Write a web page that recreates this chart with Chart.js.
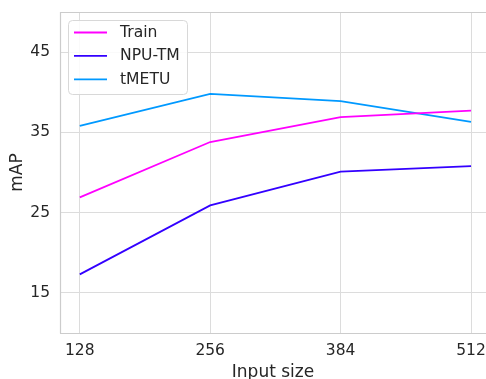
<!DOCTYPE html>
<html>
<head>
<meta charset="utf-8">
<script src="https://cdn.jsdelivr.net/npm/chart.js@4"></script>
<style>
html,body{margin:0;padding:0;background:#fff;}
#wrap{width:486px;height:379px;position:relative;}
</style>
</head>
<body>
<div id="wrap"><canvas id="c" width="486" height="379"></canvas></div>
<script>
const inputSizes = [128, 256, 384, 512];
const yTicks = [15, 25, 35, 45];
const seriesNames = ['Train', 'NPU-TM', 'tMETU'];
const train = [26.9, 33.8, 36.9, 37.7];
const npuTm = [17.3, 25.9, 30.1, 30.8];
const tmetu = [35.8, 39.8, 38.9, 36.3];
const colors = ['#ff00ff', '#3300ff', '#0099ff'];

const FONT = "'DejaVu Sans', sans-serif";
const TXT = '#262626';
const GRID = '#dcdcdc';

function pts(vals){ return inputSizes.map((x,i)=>({x:x, y:vals[i]})); }

const frame = {
  id: 'frame',
  afterDraw(chart){
    const {ctx, chartArea:a} = chart;
    ctx.save();
    ctx.strokeStyle = '#cccccc';
    ctx.lineWidth = 1.2;
    ctx.beginPath();
    ctx.moveTo(a.left+0.5, a.bottom+0.5);
    ctx.lineTo(a.left+0.5, a.top+0.5);
    ctx.lineTo(a.right, a.top+0.5);
    ctx.moveTo(a.left, a.bottom+0.5);
    ctx.lineTo(a.right, a.bottom+0.5);
    ctx.stroke();
    // legend
    const bx=68, by=20, bw=119, bh=74, r=4;
    ctx.fillStyle='rgba(255,255,255,0.85)';
    ctx.strokeStyle='#d8d8d8';
    ctx.lineWidth=1;
    ctx.beginPath();
    ctx.roundRect(bx+0.5, by+0.5, bw, bh, r);
    ctx.fill();
    ctx.stroke();
    ctx.font = "15.6px " + FONT;
    ctx.textBaseline='middle';
    ctx.textAlign='left';
    chart.data.datasets.forEach((ds,i)=>{
      const y = 32.5 + i*23.4;
      ctx.strokeStyle = ds.borderColor;
      ctx.lineWidth = 1.8;
      ctx.beginPath();
      ctx.moveTo(74, y); ctx.lineTo(107, y);
      ctx.stroke();
      ctx.fillStyle = TXT;
      ctx.fillText(ds.label, 120, y+0.5);
    });
    ctx.restore();
  }
};

new Chart(document.getElementById('c'), {
  type: 'line',
  data: {
    datasets: [
      {label: seriesNames[0], data: pts(train), borderColor: colors[0]},
      {label: seriesNames[1], data: pts(npuTm), borderColor: colors[1]},
      {label: seriesNames[2], data: pts(tmetu), borderColor: colors[2]}
    ].map(d=>Object.assign(d,{borderWidth:1.8, pointRadius:0, fill:false, tension:0}))
  },
  options: {
    responsive: false,
    animation: false,
    layout: {padding: {top: 12, right: 0, left: 0, bottom: 0}},
    plugins: {legend: {display: false}, tooltip: {enabled: false}},
    scales: {
      x: {
        type: 'linear',
        min: 108.6, max: 526.7,
        afterBuildTicks: s => { s.ticks = inputSizes.map(v=>({value:v})); },
        afterFit: s => { s.height = 46; s.paddingLeft = 0; s.paddingRight = 0; },
        grid: {color: GRID, lineWidth: 1, drawTicks: false},
        border: {display: false},
        ticks: {color: TXT, font: {family: FONT, size: 15.5}, padding: 9, maxRotation: 0},
        title: {display: true, text: 'Input size', color: TXT, font: {family: FONT, size: 17}, padding: {top: 0, bottom: -4}}
      },
      y: {
        min: 10, max: 50,
        afterBuildTicks: s => { s.ticks = yTicks.map(v=>({value:v})); },
        afterFit: s => { s.width = 60; s.paddingTop = 0; s.paddingBottom = 0; },
        grid: {color: GRID, lineWidth: 1, drawTicks: false},
        border: {display: false},
        ticks: {color: TXT, font: {family: FONT, size: 15.5}, padding: 10},
        title: {display: true, text: 'mAP', color: TXT, font: {family: FONT, size: 17}, padding: {top: 7, bottom: 0}}
      }
    }
  },
  plugins: [frame]
});
</script>
</body>
</html>
